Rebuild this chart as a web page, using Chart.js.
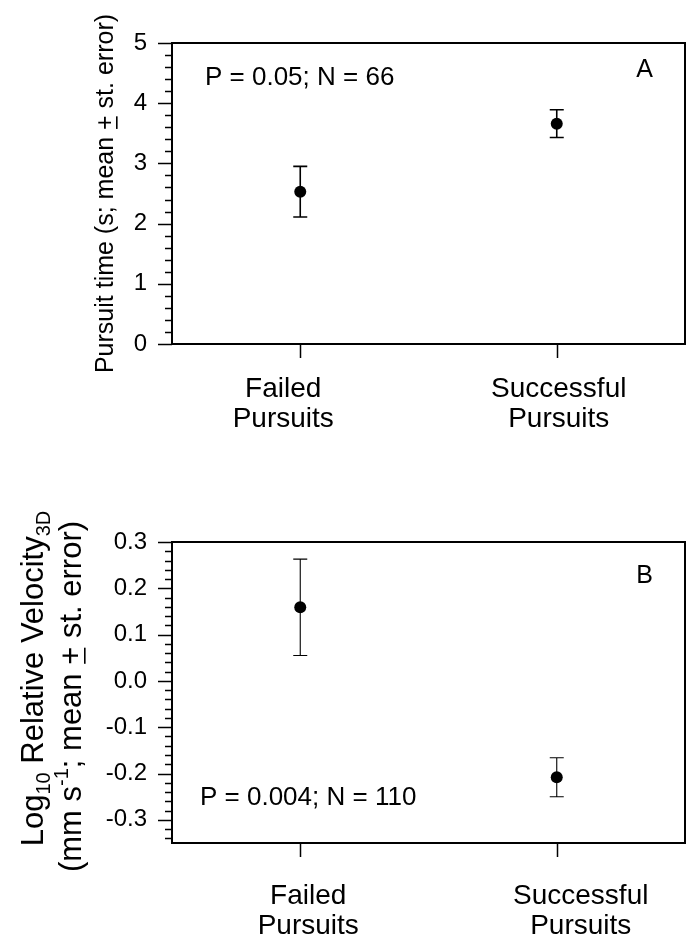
<!DOCTYPE html>
<html>
<head>
<meta charset="utf-8">
<script src="https://cdn.jsdelivr.net/npm/chart.js@4.4.1/dist/chart.umd.min.js"></script>
<style>
  html, body { margin: 0; padding: 0; background: #fff; }
  #wrap { position: relative; width: 691px; height: 936px; }
  canvas { position: absolute; left: 0; }
  #chart-a { top: 0; }
  #chart-b { top: 470px; }
</style>
</head>
<body>
<div id="wrap">
  <canvas id="chart-a" width="691" height="470"></canvas>
  <canvas id="chart-b" width="691" height="466"></canvas>
</div>
<script>
const categories = [['Failed', 'Pursuits'], ['Successful', 'Pursuits']];

// A: pursuit time, seconds (mean and standard error)
const timeMean = [2.53, 3.66];
const timeSE = [0.42, 0.23];
const timeTicks = [0, 1, 2, 3, 4, 5];

// B: log10 relative velocity (mean and standard error)
const velMean = [0.159, -0.208];
const velSE = [0.104, 0.042];
const velTicks = [-0.3, -0.2, -0.1, 0.0, 0.1, 0.2, 0.3];

const FONT = "'Liberation Sans', Arial, Helvetica, sans-serif";
Chart.defaults.font.family = FONT;
Chart.defaults.color = '#000';

// draws a row of text pieces (sub/superscripts, underlined plus) centred on the origin
function drawRuns(ctx, runs) {
  const widths = runs.map(r => {
    ctx.font = r.size + 'px ' + FONT;
    return ctx.measureText(r.t).width;
  });
  let cx = -widths.reduce((a, b) => a + b, 0) / 2;
  runs.forEach((r, i) => {
    ctx.font = r.size + 'px ' + FONT;
    ctx.fillText(r.t, cx, r.dy || 0);
    if (r.underline) ctx.fillRect(cx + 1, 3, widths[i] - 2, 1.6);
    cx += widths[i];
  });
}

// frame, ticks, error bars and text for one panel
function panelDecor(o) {
  return {
    id: 'panelDecor',
    beforeDatasetsDraw(chart) {
      const { ctx, scales: { x, y } } = chart;
      const means = chart.data.datasets[0].data;
      ctx.save();
      ctx.strokeStyle = '#000';
      ctx.lineWidth = o.barWidth;
      means.forEach((m, i) => {
        const px = x.getPixelForValue(i);
        const hi = y.getPixelForValue(m + o.se[i]);
        const lo = y.getPixelForValue(m - o.se[i]);
        ctx.beginPath();
        ctx.moveTo(px, hi); ctx.lineTo(px, lo);
        ctx.moveTo(px - 7, hi); ctx.lineTo(px + 7, hi);
        ctx.moveTo(px - 7, lo); ctx.lineTo(px + 7, lo);
        ctx.stroke();
      });
      ctx.restore();
    },
    afterDraw(chart) {
      const { ctx, chartArea: { left, right, top, bottom }, scales: { x, y } } = chart;
      ctx.save();
      ctx.strokeStyle = '#000';
      ctx.fillStyle = '#000';

      // frame
      ctx.lineWidth = 2;
      ctx.strokeRect(left, top, right - left, bottom - top);

      // y ticks: long at labelled values, short in between
      ctx.lineWidth = 1.5;
      ctx.beginPath();
      const k0 = Math.ceil(y.min / o.minor - 1e-6);
      const k1 = Math.floor(y.max / o.minor + 1e-6);
      for (let k = k0; k <= k1; k++) {
        const v = k * o.minor;
        const r = v / o.major;
        const len = Math.abs(r - Math.round(r)) < 1e-6 ? 14 : 7;
        const py = Math.round(y.getPixelForValue(v)) + 0.5;
        ctx.moveTo(left - len, py);
        ctx.lineTo(left, py);
      }
      // x ticks below the frame
      chart.data.labels.forEach((lab, i) => {
        const px = Math.round(x.getPixelForValue(i)) + 0.5;
        ctx.moveTo(px, bottom);
        ctx.lineTo(px, bottom + 14);
      });
      ctx.stroke();

      // category names
      ctx.font = '28px ' + FONT;
      ctx.textAlign = 'center';
      ctx.textBaseline = 'alphabetic';
      chart.data.labels.forEach((lab, i) => {
        const px = x.getPixelForValue(i) + o.labelShift[i];
        lab.forEach((line, j) => ctx.fillText(line, px, bottom + o.labelY + j * 30));
      });

      // statistics and panel letter
      ctx.textAlign = 'left';
      ctx.font = '26px ' + FONT;
      ctx.fillText(o.stat, left + o.statX, o.statY < 0 ? bottom + o.statY : top + o.statY);
      ctx.textAlign = 'right';
      ctx.font = '25px ' + FONT;
      ctx.fillText(o.letter, right - 32, top + o.letterY);

      // rotated y-axis title
      ctx.textAlign = 'left';
      const mid = (top + bottom) / 2;
      o.title.forEach(line => {
        ctx.save();
        ctx.translate(line.x, mid + line.shift);
        ctx.rotate(-Math.PI / 2);
        drawRuns(ctx, line.runs);
        ctx.restore();
      });
      ctx.restore();
    }
  };
}

function makePanel(id, means, ticks, yMin, yMax, fmt, decor, pad, xHeight) {
  return new Chart(document.getElementById(id), {
    type: 'line',
    data: {
      labels: categories,
      datasets: [{
        data: means,
        showLine: false,
        pointRadius: 6,
        pointHoverRadius: 6,
        pointBackgroundColor: '#000',
        pointBorderColor: '#000',
        pointBorderWidth: 0
      }]
    },
    options: {
      responsive: false,
      animation: false,
      devicePixelRatio: 1,
      layout: { padding: pad },
      plugins: {
        legend: { display: false },
        tooltip: { enabled: false }
      },
      scales: {
        x: {
          type: 'category',
          offset: true,
          grid: { display: false, drawTicks: false },
          border: { display: false },
          ticks: { display: false },
          afterFit: s => { s.height = xHeight; }
        },
        y: {
          min: yMin,
          max: yMax,
          grid: { display: false, drawTicks: false },
          border: { display: false },
          afterBuildTicks: s => { s.ticks = ticks.map(v => ({ value: v })); },
          ticks: {
            padding: 25,
            font: { size: 24 },
            color: '#000',
            callback: fmt
          },
          afterFit: s => { s.width = 172; }
        }
      }
    },
    plugins: [panelDecor(decor)]
  });
}

makePanel('chart-a', timeMean, timeTicks, 0, 5,
  v => String(Math.round(v)),
  {
    se: timeSE, barWidth: 1.6, major: 1, minor: 0.2,
    labelShift: [-17, 2], labelY: 53,
    stat: 'P = 0.05; N = 66', statX: 33, statY: 42,
    letter: 'A', letterY: 34,
    title: [{ x: 113, shift: 0, runs: [
      { t: 'Pursuit time (s; mean ', size: 25 },
      { t: '+', size: 25, underline: true },
      { t: ' st. error)', size: 25 }
    ] }]
  },
  { top: 43, right: 6, left: 0, bottom: 0 }, 126);

makePanel('chart-b', velMean, velTicks, -0.35, 0.3,
  v => (Math.abs(v) < 1e-9 ? 0 : v).toFixed(1),
  {
    se: velSE, barWidth: 1.1, major: 0.1, minor: 0.02,
    labelShift: [8, 24], labelY: 61,
    stat: 'P = 0.004; N = 110', statX: 28, statY: -38,
    letter: 'B', letterY: 41,
    title: [
      { x: 43, shift: -14, runs: [
        { t: 'Log', size: 31 },
        { t: '10', size: 20, dy: 7 },
        { t: ' Relative Velocity', size: 31 },
        { t: '3D', size: 20, dy: 7 }
      ] },
      { x: 81, shift: 4, runs: [
        { t: '(mm s', size: 31 },
        { t: '-1', size: 20, dy: -13 },
        { t: '; mean ', size: 31 },
        { t: '+', size: 31, underline: true },
        { t: ' st. error)', size: 31 }
      ] }
    ]
  },
  { top: 72, right: 6, left: 0, bottom: 0 }, 93);
</script>
</body>
</html>
